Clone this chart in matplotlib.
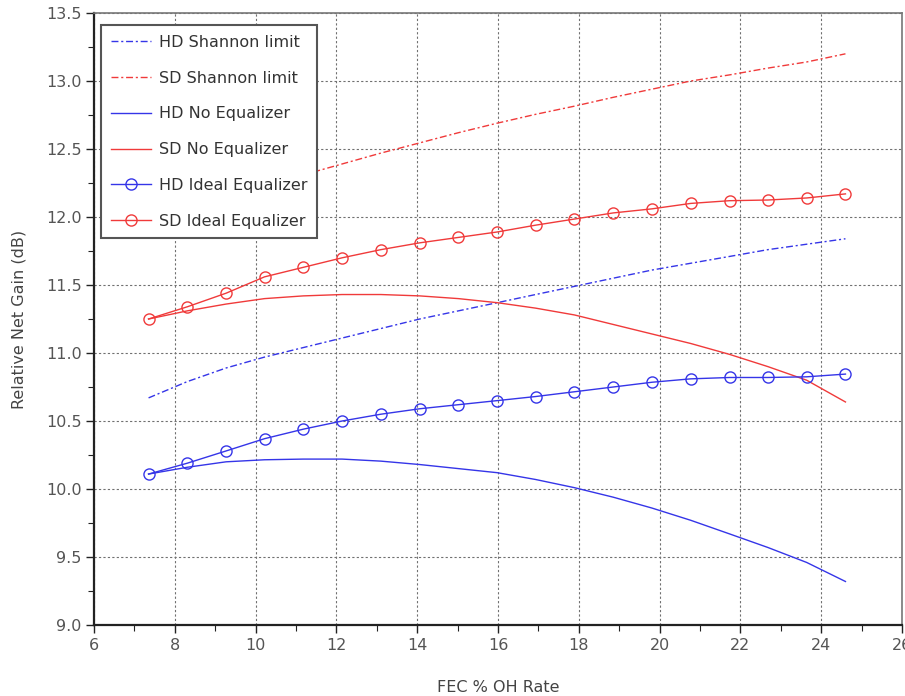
import numpy as np
import matplotlib
matplotlib.use("Agg")
import matplotlib.pyplot as plt
from matplotlib.ticker import MultipleLocator

# FEC overhead rates (%) where the curves were sampled
oh_rate = [7.35, 8.31, 9.27, 10.22, 11.18, 12.14, 13.10, 14.06, 15.02, 15.98,
           16.93, 17.89, 18.85, 19.81, 20.77, 21.73, 22.68, 23.64, 24.60]

hd_shannon = [10.67, 10.79, 10.89, 10.97, 11.04, 11.11, 11.18, 11.25, 11.31, 11.37,
              11.43, 11.49, 11.55, 11.61, 11.66, 11.71, 11.76, 11.80, 11.84]
sd_shannon = [11.90, 12.02, 12.13, 12.23, 12.31, 12.39, 12.47, 12.545, 12.62, 12.69,
              12.755, 12.815, 12.88, 12.94, 13.00, 13.045, 13.095, 13.14, 13.20]
hd_no_eq = [10.11, 10.16, 10.20, 10.215, 10.22, 10.22, 10.205, 10.18, 10.15, 10.12,
            10.07, 10.01, 9.94, 9.86, 9.77, 9.67, 9.57, 9.46, 9.32]
sd_no_eq = [11.25, 11.31, 11.36, 11.40, 11.42, 11.43, 11.43, 11.42, 11.40, 11.37,
            11.33, 11.28, 11.21, 11.14, 11.07, 10.99, 10.90, 10.80, 10.64]
hd_ideal = [10.11, 10.19, 10.28, 10.37, 10.44, 10.50, 10.55, 10.59, 10.62, 10.65,
            10.68, 10.715, 10.75, 10.785, 10.81, 10.82, 10.82, 10.825, 10.845]
sd_ideal = [11.25, 11.34, 11.44, 11.56, 11.63, 11.70, 11.76, 11.81, 11.85, 11.89,
            11.94, 11.985, 12.03, 12.06, 12.10, 12.12, 12.125, 12.14, 12.17]

blue = "#3535e8"
red = "#f03a3a"
dashdot = (0, (5, 2, 1.5, 2))

plt.rcParams["font.family"] = ["DejaVu Sans"]
fig = plt.figure(figsize=(9.05, 6.96), dpi=100)
ax = fig.add_axes([0.1039, 0.1020, 0.8928, 0.8793])

ax.plot(oh_rate, hd_shannon, color=blue, lw=1, linestyle=dashdot, label="HD Shannon limit")
ax.plot(oh_rate, sd_shannon, color=red, lw=1, linestyle=dashdot, label="SD Shannon limit")
ax.plot(oh_rate, hd_no_eq, color=blue, lw=1, label="HD No Equalizer")
ax.plot(oh_rate, sd_no_eq, color=red, lw=1, label="SD No Equalizer")
ax.plot(oh_rate, hd_ideal, color=blue, lw=1, marker="o", ms=8, mfc="none", mew=1,
        label="HD Ideal Equalizer")
ax.plot(oh_rate, sd_ideal, color=red, lw=1, marker="o", ms=8, mfc="none", mew=1,
        label="SD Ideal Equalizer")

ax.set_xlim(6, 26)
ax.set_ylim(9.0, 13.5)
ax.xaxis.set_major_locator(MultipleLocator(2))
ax.xaxis.set_minor_locator(MultipleLocator(1))
ax.yaxis.set_major_locator(MultipleLocator(0.5))
ax.yaxis.set_minor_locator(MultipleLocator(0.25))
ax.yaxis.set_major_formatter(matplotlib.ticker.FormatStrFormatter("%.1f"))

ax.grid(True, which="major", color="#707070", linestyle=(0, (2, 2)), lw=0.8)
ax.set_axisbelow(True)

ax.tick_params(which="both", direction="out", colors="#222222", labelcolor="#555555",
               labelsize=11.5, top=False, right=False)
ax.tick_params(which="major", length=6, width=1)
ax.tick_params(which="minor", length=4, width=0.8)
ax.tick_params(axis="x", pad=3)
ax.tick_params(axis="y", pad=3)

for side in ["left", "bottom"]:
    ax.spines[side].set_linewidth(1.6)
    ax.spines[side].set_color("#222222")
for side in ["top", "right"]:
    ax.spines[side].set_linewidth(1.2)
    ax.spines[side].set_color("#777777")

ax.set_xlabel("FEC % OH Rate", fontsize=11.5, color="#444444", labelpad=20)
ax.set_ylabel("Relative Net Gain (dB)", fontsize=11.5, color="#444444", labelpad=14)

leg = ax.legend(loc="upper left", bbox_to_anchor=(0.0087, 0.980), borderaxespad=0,
                fontsize=11.5, frameon=True, fancybox=False, framealpha=1,
                edgecolor="#555555", labelcolor="#333333", handlelength=2.5,
                labelspacing=1.3, borderpad=0.6, handletextpad=0.5)
leg.get_frame().set_linewidth(1.5)

plt.savefig("out.png", dpi=100)
